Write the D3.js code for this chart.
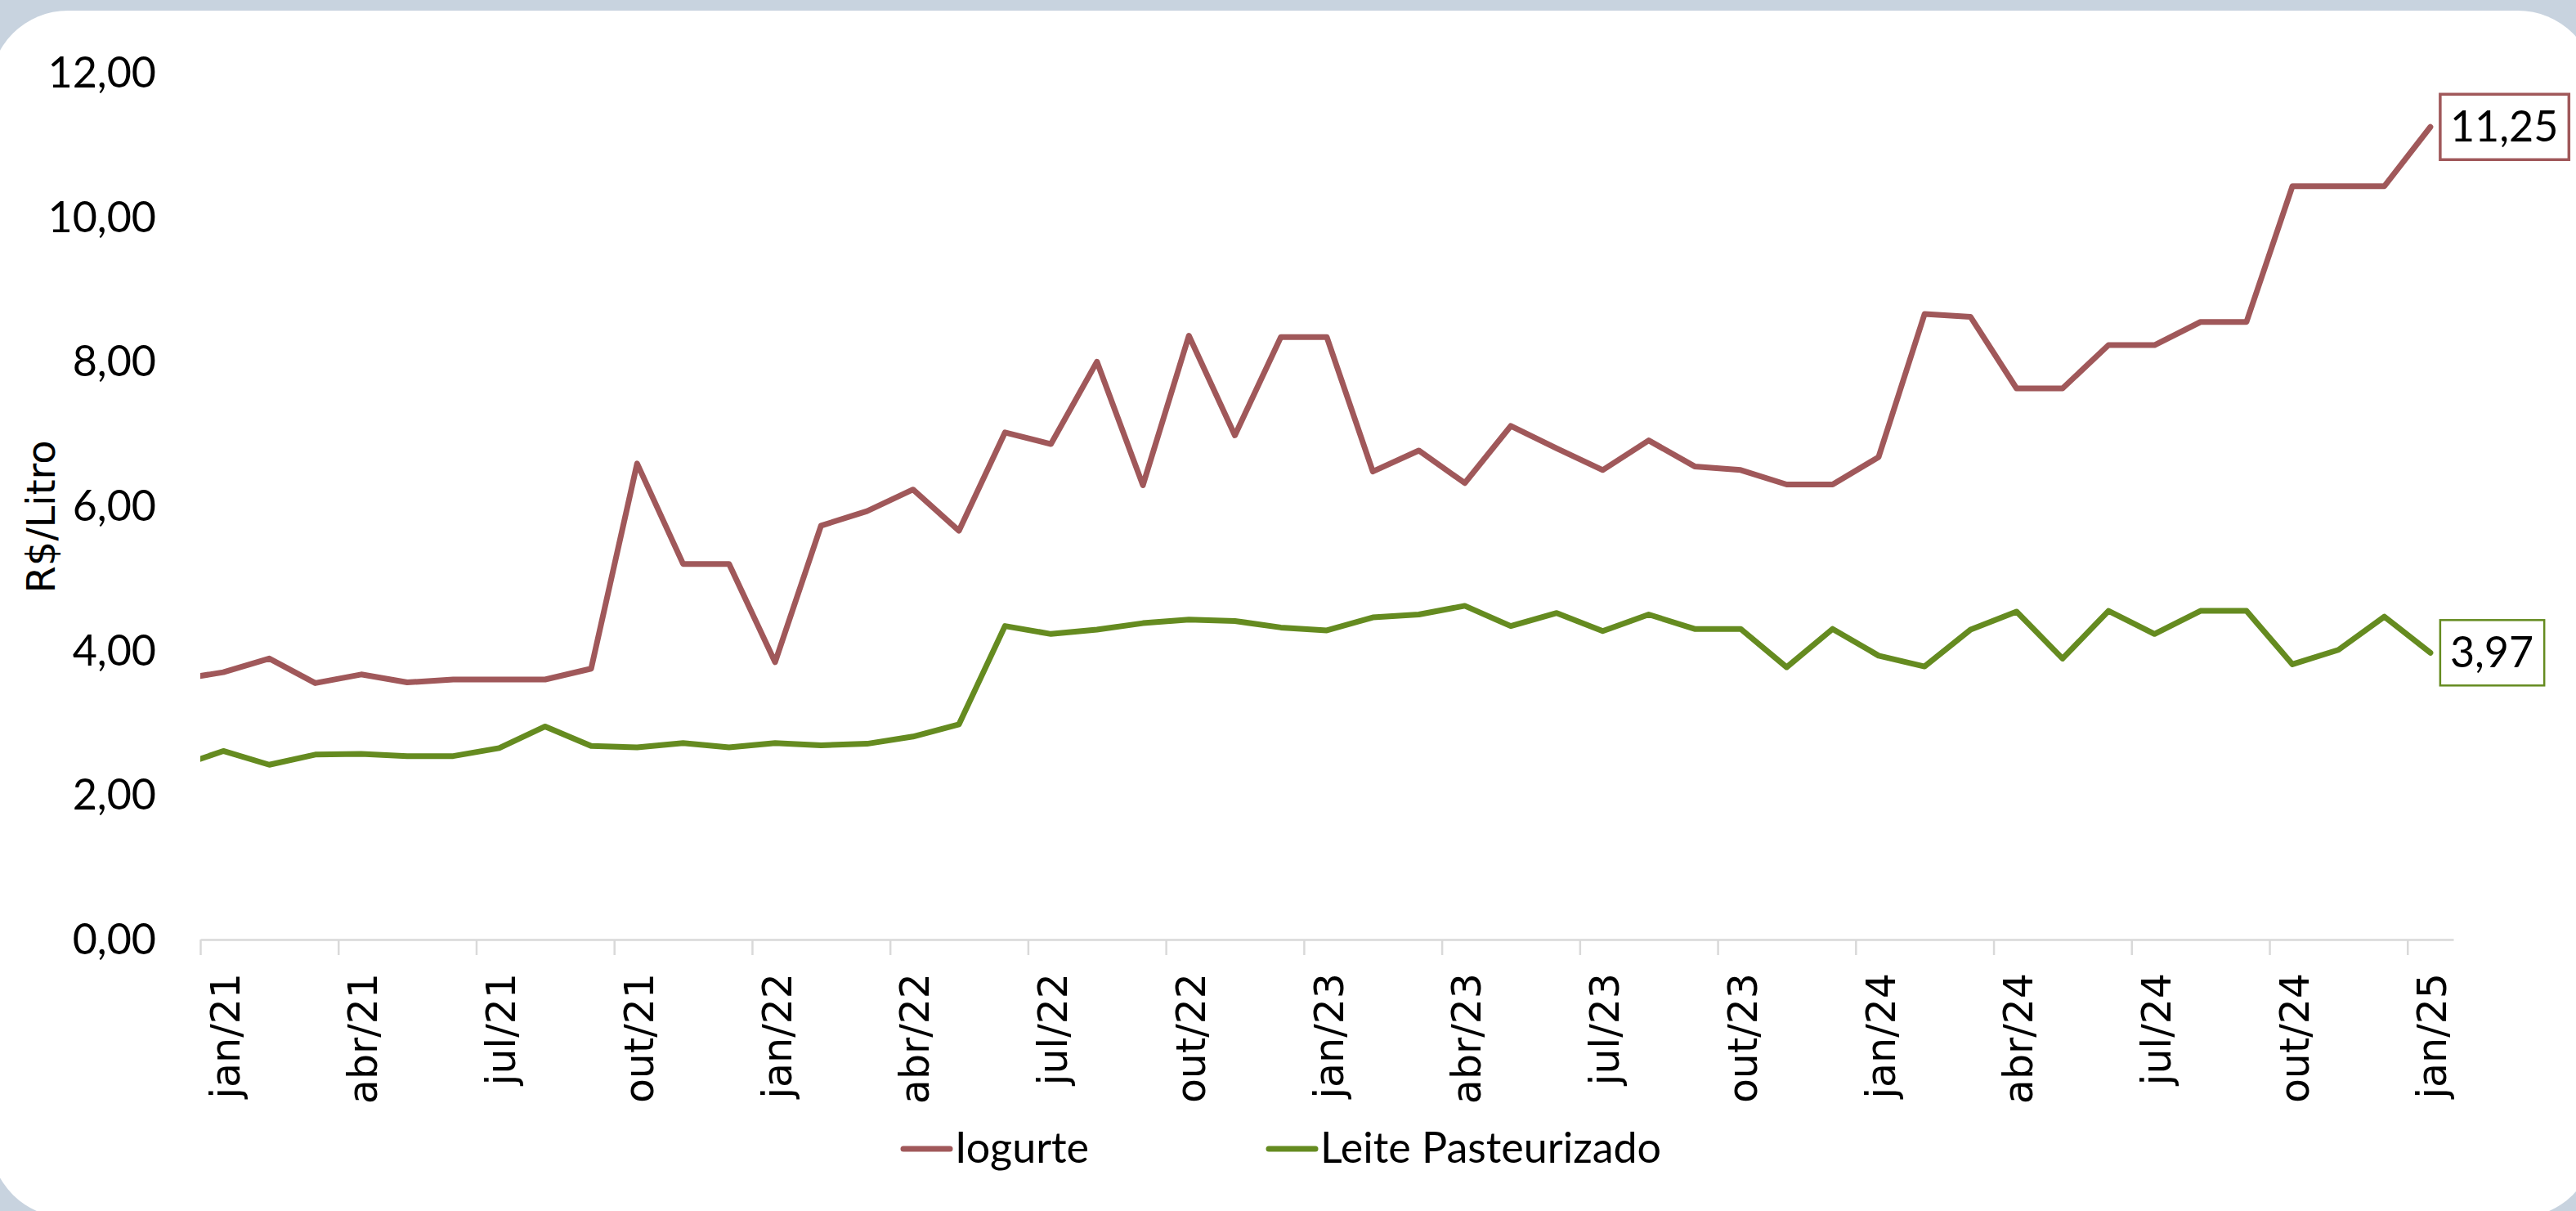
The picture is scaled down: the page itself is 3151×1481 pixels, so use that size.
<!DOCTYPE html>
<html>
<head>
<meta charset="utf-8">
<script src="https://d3js.org/d3.v7.min.js"></script>
<style>
  body { margin: 0; background: #c8d3df; }
  svg { display: block; }
  .calib { font-family: 'Lato', sans-serif; font-size: 52px; }
  .verd { font-family: 'DejaVu Sans', 'Verdana', sans-serif; }
</style>
</head>
<body>
<div id="chart"></div>
<script>
// months (dez/20 is only there so the first segment gets clipped at the axis, like the original)
var months = ["dez/20",
  "jan/21","fev/21","mar/21","abr/21","mai/21","jun/21","jul/21","ago/21","set/21","out/21","nov/21","dez/21",
  "jan/22","fev/22","mar/22","abr/22","mai/22","jun/22","jul/22","ago/22","set/22","out/22","nov/22","dez/22",
  "jan/23","fev/23","mar/23","abr/23","mai/23","jun/23","jul/23","ago/23","set/23","out/23","nov/23","dez/23",
  "jan/24","fev/24","mar/24","abr/24","mai/24","jun/24","jul/24","ago/24","set/24","out/24","nov/24","dez/24",
  "jan/25"];

var iogurte = [3.60,
  3.70, 3.89, 3.55, 3.67, 3.56, 3.60, 3.60, 3.60, 3.75, 6.59, 5.20, 5.20,
  3.84, 5.73, 5.93, 6.23, 5.66, 7.02, 6.86, 8.00, 6.29, 8.36, 6.98, 8.34,
  8.34, 6.48, 6.77, 6.32, 7.11, 6.80, 6.50, 6.91, 6.55, 6.50, 6.30, 6.30,
  6.68, 8.66, 8.62, 7.63, 7.63, 8.23, 8.23, 8.55, 8.55, 10.43, 10.43, 10.43,
  11.25];

var leite = [2.39,
  2.61, 2.42, 2.56, 2.57, 2.54, 2.54, 2.65, 2.95, 2.68, 2.66, 2.72, 2.66,
  2.72, 2.69, 2.71, 2.81, 2.98, 4.34, 4.23, 4.29, 4.38, 4.43, 4.41, 4.32,
  4.28, 4.46, 4.50, 4.62, 4.34, 4.52, 4.27, 4.50, 4.30, 4.30, 3.77, 4.30,
  3.93, 3.78, 4.29, 4.54, 3.89, 4.55, 4.23, 4.55, 4.55, 3.81, 4.01, 4.47,
  3.97];

var tickLabels = ["jan/21","abr/21","jul/21","out/21","jan/22","abr/22","jul/22","out/22",
  "jan/23","abr/23","jul/23","out/23","jan/24","abr/24","jul/24","out/24","jan/25"];

var yTicks = [0, 2, 4, 6, 8, 10, 12];

var seriesNames = ["Iogurte", "Leite Pasteurizado"];
var seriesColors = ["#a0585a", "#658b20"];

var W = 3151, H = 1481;
var plotLeft = 245, plotRight = 3001, plotTop = 89, plotBottom = 1149;

var svg = d3.select("#chart").append("svg")
    .attr("width", W)
    .attr("height", H);

// white panel with rounded corners
svg.append("rect")
    .attr("x", -12).attr("y", 13)
    .attr("width", 3187).attr("height", 1476)
    .attr("rx", 95).attr("ry", 95)
    .attr("fill", "#ffffff");

// month index: jan/21 = 0
function idx(label) { return months.indexOf(label) - 1; }

var x = d3.scaleLinear()
    .domain([-0.5, 48.5])
    .range([plotLeft, plotRight]);

var y = d3.scaleLinear()
    .domain([0, 12])
    .range([plotBottom, plotTop]);

var fmt = function(v) { return d3.format(".2f")(v).replace(".", ","); };

// y axis labels (no axis line)
svg.append("g").selectAll("text")
    .data(yTicks)
    .enter().append("text")
    .attr("class", "calib")
    .attr("x", 191)
    .attr("y", function(d) { return y(d) + 18; })
    .attr("text-anchor", "end")
    .text(fmt);

// y title
svg.append("text")
    .attr("class", "verd")
    .attr("transform", "translate(67,632) rotate(-90)")
    .attr("text-anchor", "middle")
    .style("font-size", "48px")
    .text("R$/Litro");

// x axis: ticks sit between the months, one every quarter
var tickPos = tickLabels.map(function(l) { return idx(l) - 0.5; });
var xAxis = svg.append("g")
    .attr("transform", "translate(0," + plotBottom + ")")
    .call(d3.axisBottom(x).tickValues(tickPos).tickFormat("").tickSize(19).tickSizeOuter(0));
xAxis.select(".domain").attr("stroke", "#d9d9d9").attr("stroke-width", 2.5);
xAxis.selectAll(".tick line").attr("stroke", "#d9d9d9").attr("stroke-width", 2.5);

svg.append("g").selectAll("text")
    .data(tickLabels)
    .enter().append("text")
    .attr("class", "verd")
    .attr("transform", function(d) { return "translate(" + x(idx(d)) + ",1190) rotate(-90)"; })
    .attr("dy", "0.4em")
    .attr("text-anchor", "end")
    .style("font-size", "49px")
    .text(function(d) { return d; });

// lines, clipped to the plot area
svg.append("clipPath").attr("id", "plotclip")
  .append("rect")
    .attr("x", plotLeft).attr("y", 0)
    .attr("width", plotRight - plotLeft).attr("height", plotBottom);

var line = d3.line()
    .x(function(d, i) { return x(i - 1); })
    .y(function(d) { return y(d); });

[iogurte, leite].forEach(function(s, k) {
  svg.append("path")
      .datum(s)
      .attr("clip-path", "url(#plotclip)")
      .attr("fill", "none")
      .attr("stroke", seriesColors[k])
      .attr("stroke-width", 7)
      .attr("stroke-linejoin", "round")
      .attr("stroke-linecap", "round")
      .attr("d", line);
});

// last value labels in boxes
[iogurte, leite].forEach(function(s, k) {
  var last = s.length - 1;
  var px = x(last - 1), py = y(s[last]);
  var g = svg.append("g");
  var box = g.append("rect");
  var t = g.append("text")
      .attr("class", "calib")
      .attr("x", px + 24)
      .attr("y", py + 18)
      .text(fmt(s[last]));
  var bb = t.node().getBBox();
  box.attr("x", px + 12)
      .attr("y", py - 40)
      .attr("width", bb.width + 25)
      .attr("height", 80)
      .attr("fill", "#ffffff")
      .attr("stroke", seriesColors[k])
      .attr("stroke-width", k === 0 ? 3.5 : 2.5);
});

// legend
var legendX = [1105, 1552];
seriesNames.forEach(function(n, k) {
  svg.append("line")
      .attr("x1", legendX[k]).attr("x2", legendX[k] + 57)
      .attr("y1", 1405).attr("y2", 1405)
      .attr("stroke", seriesColors[k])
      .attr("stroke-width", 7)
      .attr("stroke-linecap", "round");
  svg.append("text")
      .attr("class", "calib")
      .attr("x", legendX[k] + 63)
      .attr("y", 1422)
      .text(n);
});
</script>
</body>
</html>
